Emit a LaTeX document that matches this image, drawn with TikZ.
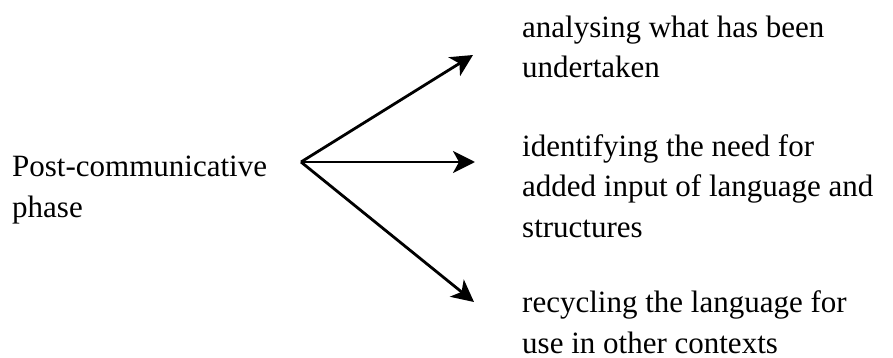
\documentclass[tikz,border=0pt]{standalone}
\usepackage{fontspec}
\setmainfont{Liberation Serif}
\usetikzlibrary{arrows.meta}

\begin{document}
\begin{tikzpicture}[x=1pt, y=-1pt,
  phase/.style={anchor=base west, inner sep=0pt, align=left,
    font=\fontsize{31}{40.5}\selectfont},
  branch/.style={black, line width=2.8pt, -{Stealth[length=22pt, width=22pt, inset=6pt]}}]
\useasboundingbox (0, 0) rectangle (893, 358);

% texts, placed by the baseline of their last line
\node[phase] (post) at (12, 217) {Post-communicative\\phase};
\node[phase] (analyse) at (522, 78) {analysing what has been\\undertaken};
\node[phase] (identify) at (522, 237) {identifying the need for\\added input of language and\\structures};
\node[phase] (recycle) at (522, 353) {recycling the language for\\use in other contexts};

\coordinate (hub) at (301, 162);
\coordinate (tipA) at (473, 55);
\coordinate (tipB) at (475, 162);
\coordinate (tipC) at (474, 302);

\draw[branch] (hub) -- (tipA);
\draw[branch] (hub) -- (tipB);
\draw[branch] (hub) -- (tipC);
\end{tikzpicture}
\end{document}
